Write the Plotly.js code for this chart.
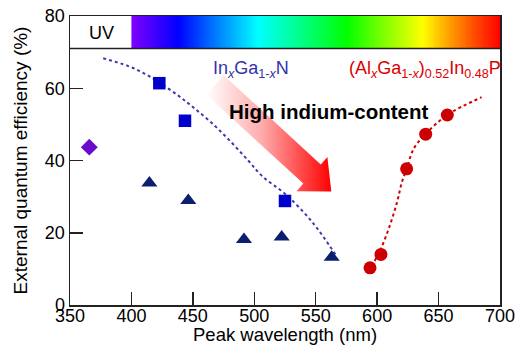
<!DOCTYPE html>
<html><head><meta charset="utf-8">
<script src="https://cdn.plot.ly/plotly-3.0.1.min.js"></script>
<style>html,body{margin:0;padding:0;background:#fff}#chart{width:529px;height:355px}</style>
</head><body><div id="chart"></div>
<script>
// ---- data ----
const ingan_sq_x = [422.7, 443.6, 525.0];
const ingan_sq_y = [61.4, 51.0, 28.8];
const ingan_tri_x = [414.6, 446.3, 491.6, 522.3, 563.0];
const ingan_tri_y = [33.8, 28.9, 18.1, 18.8, 13.2];
const uv_x = [365.7];
const uv_y = [43.7];
const algainp_x = [594.2, 603.1, 624.0, 639.5, 657.1];
const algainp_y = [10.3, 14.0, 37.7, 47.3, 52.6];
const ingan_fit_x = [377, 397, 411, 423, 438, 450, 465, 480, 495, 507, 526, 548, 566];
const ingan_fit_y = [68.3, 66.2, 64.0, 61.5, 58.0, 54.8, 50.5, 45.5, 40.0, 35.5, 30.5, 22.6, 14.0];
const algainp_fit_x = [598, 603, 610, 616, 620, 624, 630, 640, 657, 685];
const algainp_fit_y = [12.2, 15.5, 21.7, 28.2, 33.8, 37.7, 43.4, 47.5, 52.6, 57.5];
const arrow_x = [475.1, 554.1, 559.5, 562.7, 534.4, 539.9, 460.9, 475.1];
const arrow_y = [63.6, 38.9, 41.0, 31.4, 31.5, 33.6, 58.2, 63.6];
const spectrum_nm = [400, 700];
const spectrum_band = [71, 80];
const spectrum_stops_nm = [400, 438, 470, 503, 540, 575, 605, 637, 658, 682, 700];
const spectrum_stops_color = ['#8000ff','#0000ff','#0080ff','#00ffff','#00ff80','#00ff00','#80ff00','#ffff00','#ffa000','#ff4000','#ff0000'];
const x_ticks = [350, 400, 450, 500, 550, 600, 650, 700];
const y_ticks = [0, 20, 40, 60, 80];

// spectrum strip (decorative heatmap across 400-700 nm)
const edges = [];
for (let w = spectrum_nm[0]; w <= spectrum_nm[1]; w += 1) edges.push(w);
const mids = edges.slice(0, -1).map(w => w + 0.5);
const span = spectrum_nm[1] - spectrum_nm[0];
const cscale = spectrum_stops_nm.map((w, i) => [(w - spectrum_nm[0]) / span, spectrum_stops_color[i]]);

const FONT = 'Liberation Sans, Arial, sans-serif';
const traces = [
  {type: 'heatmap', x: edges, y: spectrum_band, z: [mids], colorscale: cscale,
   zmin: spectrum_nm[0], zmax: spectrum_nm[1], showscale: false, hoverinfo: 'skip'},
  {type: 'scatter', mode: 'lines', x: arrow_x, y: arrow_y, fill: 'toself',
   fillcolor: 'rgba(255,80,80,0.8)', line: {width: 0},
   fillgradient: {type: 'horizontal', colorscale: [[0, 'rgba(255,255,255,1)'], [0.45, 'rgba(255,170,170,1)'], [1, 'rgba(255,0,0,1)']]},
   hoverinfo: 'skip'},
  {type: 'scatter', mode: 'lines', x: ingan_fit_x, y: ingan_fit_y,
   line: {color: '#3a3ab0', width: 2, dash: 'dot', shape: 'spline', smoothing: 1}},
  {type: 'scatter', mode: 'lines', x: algainp_fit_x, y: algainp_fit_y,
   line: {color: '#d00000', width: 2, dash: 'dot', shape: 'spline', smoothing: 1}},
  {type: 'scatter', mode: 'markers', x: uv_x, y: uv_y,
   marker: {symbol: 'diamond', size: 13, color: '#6a0ccc'}},
  {type: 'scatter', mode: 'markers', x: ingan_tri_x, y: ingan_tri_y,
   marker: {symbol: 'triangle-up', size: 14, color: '#0c1f6e'}},
  {type: 'scatter', mode: 'markers', x: ingan_sq_x, y: ingan_sq_y,
   marker: {symbol: 'square', size: 12.5, color: '#0000cc'}},
  {type: 'scatter', mode: 'markers', x: algainp_x, y: algainp_y,
   marker: {symbol: 'circle', size: 13, color: '#cc0000'}}
];

const layout = {
  width: 529, height: 355,
  margin: {l: 70, r: 29, t: 16, b: 50},
  paper_bgcolor: '#fff', plot_bgcolor: '#fff',
  showlegend: false,
  font: {family: FONT, size: 18, color: '#000'},
  xaxis: {range: [350, 700], tickvals: x_ticks, ticks: 'inside', ticklen: 13, tickwidth: 1.5,
    tickcolor: '#222', showline: true, linecolor: '#222', linewidth: 1.5, mirror: true,
    showgrid: false, zeroline: false, tickfont: {size: 18}, ticklabelstandoff: -6},
  yaxis: {range: [0, 80], tickvals: y_ticks, ticks: 'inside', ticklen: 13, tickwidth: 1.5,
    tickcolor: '#222', showline: true, linecolor: '#222', linewidth: 1.5, mirror: true,
    showgrid: false, zeroline: false, tickfont: {size: 18},
    title: {text: 'External quantum efficiency (%)', font: {size: 19}, standoff: 12}},
  shapes: [
    {type: 'line', xref: 'x', yref: 'y', x0: 350, x1: 700, y0: 71, y1: 71, line: {color: '#222', width: 1.5}}
  ],
  annotations: [
    {x: 0.5, y: -0.102, xref: 'paper', yref: 'paper', yanchor: 'middle', text: 'Peak wavelength (nm)',
     showarrow: false, font: {size: 18.5, color: '#000'}},
    {x: 376, y: 75.4, xref: 'x', yref: 'y', text: 'UV', showarrow: false, font: {size: 18, color: '#000'}},
    {x: 497.2, y: 65.3, xref: 'x', yref: 'y', text: 'In<sub><i>x</i></sub>Ga<sub>1-<i>x</i></sub>N', showarrow: false,
     font: {size: 18, color: '#3333aa'}},
    {x: 638.9, y: 65.3, xref: 'x', yref: 'y', text: '(Al<sub><i>x</i></sub>Ga<sub>1-<i>x</i></sub>)<sub>0.52</sub>In<sub>0.48</sub>P', showarrow: false,
     font: {size: 18, color: '#dd0000'}},
    {x: 560.5, y: 53.6, xref: 'x', yref: 'y', text: '<b>High indium-content</b>', showarrow: false,
     font: {size: 20.5, color: '#000', family: FONT}}
  ]
};

Plotly.newPlot('chart', traces, layout, {staticPlot: true, displayModeBar: false});
</script>
</body></html>
